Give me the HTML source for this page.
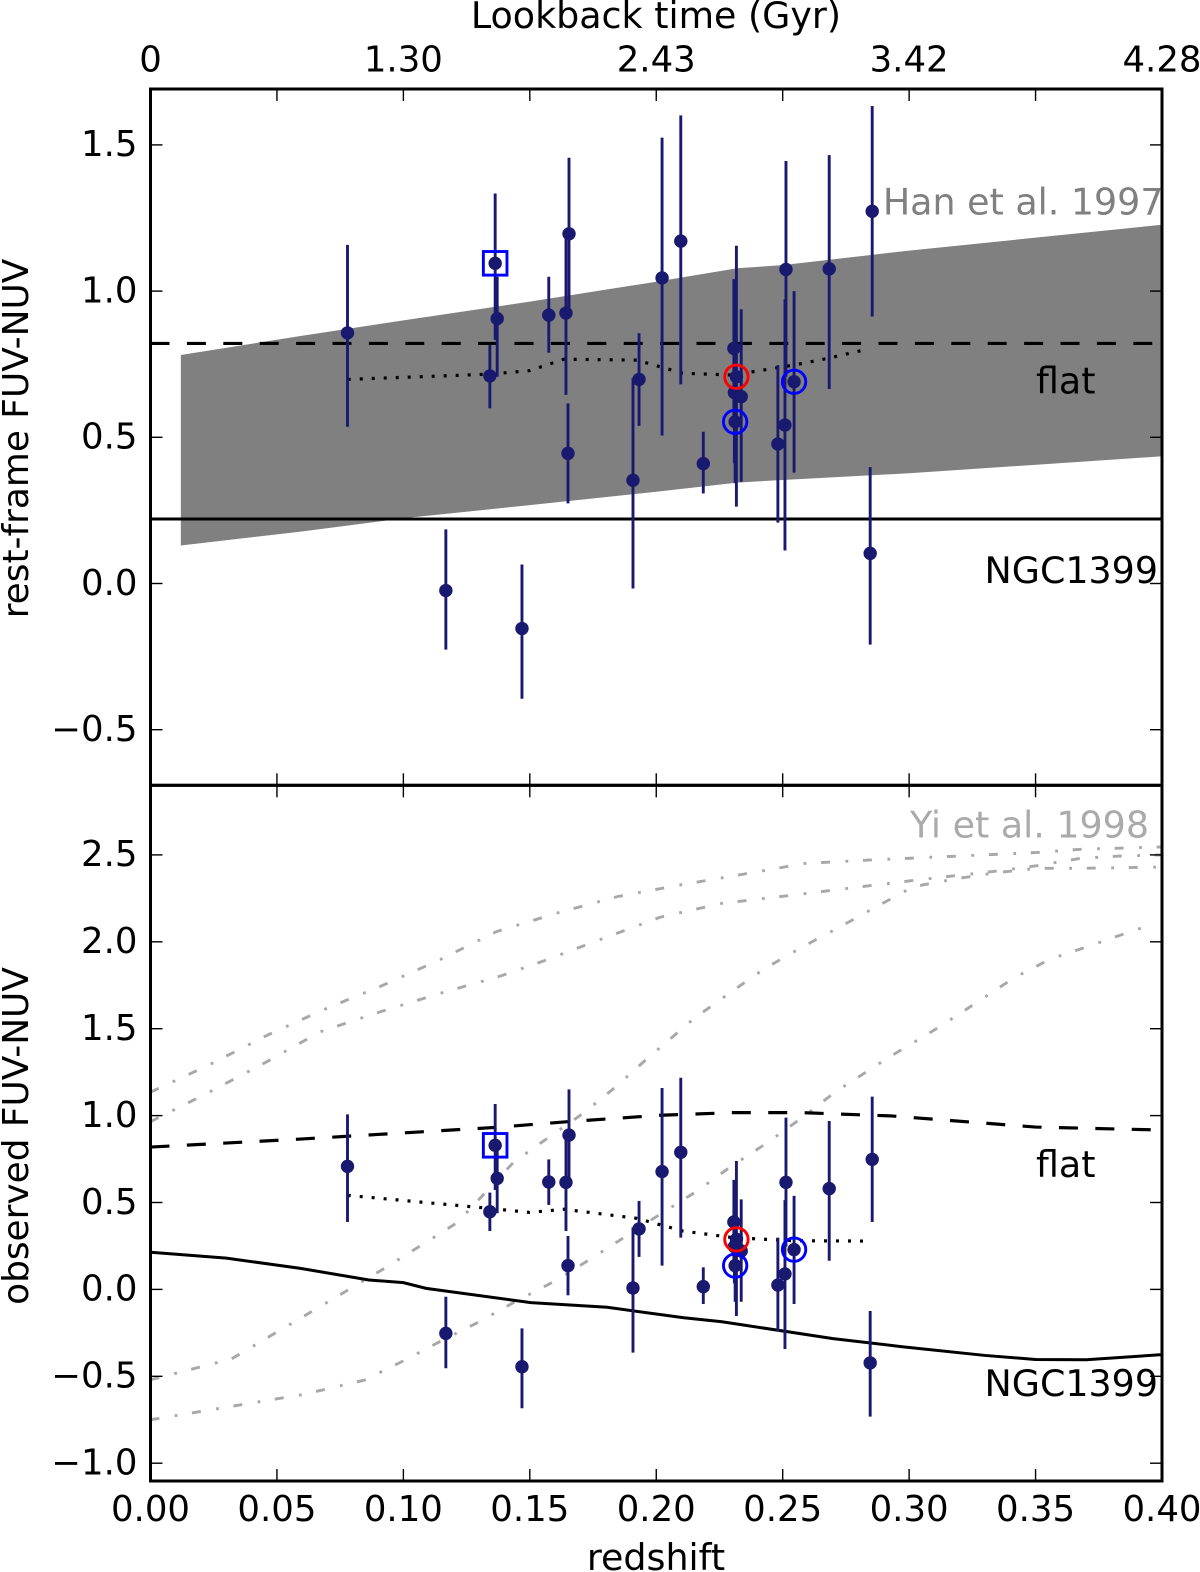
<!DOCTYPE html>
<html lang="en">
<head>
<meta charset="utf-8">
<title>FUV-NUV colour versus redshift</title>
<style>
html,body{margin:0;padding:0;background:#fff}
svg{display:block;font-family:"DejaVu Sans","Liberation Sans",sans-serif}
text{font-size:35.5px;fill:#000}
text.big{font-size:36.4px}
text.ytitle{font-size:35.9px}
</style>
</head>
<body>
<svg id="chart" xmlns="http://www.w3.org/2000/svg" width="1200" height="1572" viewBox="0 0 1200 1572">
  <defs>
    <clipPath id="clip-top"><rect x="150.5" y="89" width="1011.5" height="696.3"/></clipPath>
    <clipPath id="clip-bottom"><rect x="150.5" y="785.3" width="1011.5" height="695.7"/></clipPath>
  </defs>
  <rect x="0" y="0" width="1200" height="1572" fill="#fff"/>
  <g id="top-marks" clip-path="url(#clip-top)"></g>
  <g id="bottom-marks" clip-path="url(#clip-bottom)"></g>
  <g id="ticks"></g>
  <g fill="none" stroke="#000" stroke-width="3">
    <rect x="150.5" y="89" width="1011.5" height="696.3"/>
    <rect x="150.5" y="785.3" width="1011.5" height="695.7"/>
  </g>
  <text class="big" x="656" y="28" text-anchor="middle">Lookback time (Gyr)</text>
  <text class="ytitle" transform="translate(28,438.5) rotate(-90)" text-anchor="middle">rest-frame FUV-NUV</text>
  <text class="ytitle" transform="translate(28,1136) rotate(-90)" text-anchor="middle">observed FUV-NUV</text>
  <text class="big" x="656" y="1570" text-anchor="middle">redshift</text>
  <text class="big" x="1163.5" y="214.5" text-anchor="end" style="fill:#808080">Han et al. 1997</text>
  <text class="big" x="1149" y="837.5" text-anchor="end" style="fill:#aaaaaa">Yi et al. 1998</text>
  <text class="big" x="1036" y="393.3">flat</text>
  <text class="big" x="1158" y="583" text-anchor="end">NGC1399</text>
  <text class="big" x="1036" y="1177">flat</text>
  <text class="big" x="1158" y="1396" text-anchor="end">NGC1399</text>
</svg>
<script>
// Galaxy sample
const redshift = [0.0779,0.1363,0.1371,0.1342,0.1575,0.1655,0.1643,0.1651,0.1908,0.1932,0.2023,0.2097,0.2186,0.2307,0.2317,0.2309,0.2336,0.2312,0.2481,0.2509,0.2513,0.2545,0.2684,0.2854,0.2846,0.1168,0.1469];
const restColor = [0.857,1.095,0.906,0.710,0.918,1.196,0.925,0.445,0.353,0.698,1.045,1.171,0.410,0.804,0.707,0.653,0.639,0.553,0.477,0.542,1.074,0.690,1.076,1.273,0.103,-0.024,-0.154];
const restHigh = [1.158,1.334,1.049,0.816,1.049,1.456,1.186,0.616,0.702,0.856,1.525,1.601,0.519,1.041,1.155,0.890,0.938,0.787,0.747,0.972,1.445,1.000,1.465,1.633,0.398,0.185,0.065];
const restLow = [0.536,0.833,0.707,0.599,0.789,0.935,0.645,0.274,-0.017,0.539,0.506,0.681,0.308,0.548,0.263,0.411,0.348,0.343,0.208,0.113,0.707,0.379,0.665,0.913,-0.209,-0.226,-0.394];
const obsColor = [0.708,0.829,0.639,0.447,0.618,0.888,0.616,0.137,0.008,0.348,0.678,0.789,0.016,0.388,0.288,0.246,0.221,0.137,0.025,0.089,0.616,0.229,0.580,0.748,-0.423,-0.253,-0.445];
const obsHigh = [1.007,1.067,0.821,0.557,0.748,1.151,0.917,0.307,0.357,0.509,1.159,1.218,0.127,0.630,0.739,0.457,0.518,0.380,0.298,0.514,0.988,0.538,0.969,1.109,-0.124,-0.042,-0.224];
const obsLow = [0.388,0.572,0.438,0.336,0.486,0.630,0.336,-0.034,-0.364,0.187,0.137,0.298,-0.084,0.150,-0.153,0.035,-0.071,-0.071,-0.243,-0.343,0.246,-0.084,0.165,0.388,-0.732,-0.454,-0.684];

// Highlighted galaxies (indices into the sample arrays)
const squareBlue = [1];
const circleBlue = [17,21];
const circleRed = [14];

// Han et al. 1997 band
const bandZ = [0.012,0.059,0.100,0.150,0.200,0.232,0.250,0.300,0.400];
const bandUpper = [0.7815,0.846,0.900,0.964,1.032,1.078,1.089,1.1385,1.227];
const bandLower = [0.130,0.177,0.223,0.268,0.314,0.345,0.354,0.377,0.435];

// Reference lines, top panel
const topFlatZ = [0,0.4];
const topFlat = [0.821,0.821];
const topNgcZ = [0,0.4];
const topNgc = [0.2206,0.2206];

// Dotted sample trend
const dottedZ = [0.0780,0.1342,0.1499,0.1635,0.1923,0.2105,0.2302,0.2544,0.2679,0.2823];
const dottedTop = [0.698,0.716,0.728,0.767,0.764,0.719,0.713,0.747,0.770,0.799];
const dottedBottom = [0.541,0.466,0.443,0.461,0.409,0.336,0.298,0.280,0.279,0.278];

// Reference lines, bottom panel
const flatZ = [0,0.0593,0.1363,0.1650,0.2017,0.2302,0.2575,0.2930,0.3500,0.4000];
const flatObs = [0.819,0.865,0.932,0.965,1.002,1.017,1.017,0.998,0.934,0.917];
const ngcZ = [0,0.0300,0.0593,0.0864,0.1000,0.1090,0.1504,0.1806,0.2109,0.2260,0.2699,0.2968,0.3300,0.3500,0.3700,0.4000];
const ngcObs = [0.214,0.180,0.121,0.054,0.039,0.006,-0.076,-0.103,-0.163,-0.186,-0.283,-0.329,-0.380,-0.403,-0.405,-0.375];

// Yi et al. 1998 tracks
const yi1Z = [0,0.0231,0.0455,0.0682,0.0913,0.1142,0.1367,0.1604,0.1846,0.2094,0.2340,0.2588,0.2839,0.3174,0.3506,0.3676,0.3925,0.4000];
const yi1 = [1.135,1.291,1.458,1.608,1.746,1.895,2.058,2.164,2.260,2.327,2.388,2.451,2.470,2.492,2.514,2.532,2.543,2.546];
const yi2Z = [0,0.0231,0.0455,0.0672,0.0910,0.1147,0.1384,0.1555,0.1780,0.2015,0.2258,0.2509,0.2760,0.3012,0.3174,0.3347,0.3506,0.3676,0.3842,0.4000];
const yi2 = [0.965,1.134,1.306,1.483,1.598,1.704,1.803,1.890,2.014,2.141,2.221,2.263,2.308,2.352,2.379,2.407,2.438,2.480,2.494,2.500];
const yi3Z = [0,0.032,0.0637,0.0925,0.1213,0.1438,0.1575,0.1711,0.184,0.1965,0.2153,0.2292,0.2430,0.2575,0.2723,0.2871,0.3016,0.3174,0.3347,0.3506,0.3676,0.4000];
const yi3 = [-0.520,-0.400,-0.128,0.121,0.384,0.735,0.875,1.013,1.166,1.329,1.563,1.707,1.847,1.968,2.083,2.202,2.317,2.360,2.398,2.423,2.423,2.430];
const yi4Z = [0,0.0606,0.0848,0.0999,0.1151,0.1295,0.1438,0.159,0.1734,0.1877,0.2021,0.2157,0.2294,0.243,0.2573,0.271,0.2846,0.2913,0.2986,0.3122,0.3412,0.3557,0.3715,0.3874,0.3953];
const yi4 = [-0.750,-0.604,-0.521,-0.412,-0.295,-0.190,-0.074,0.041,0.169,0.303,0.438,0.562,0.706,0.835,0.984,1.138,1.266,1.329,1.393,1.512,1.790,1.900,1.977,2.058,2.096];

// Tick labels
const zTicks = [0,0.05,0.10,0.15,0.20,0.25,0.30,0.35,0.40];
const zLabeled = [0,0.05,0.10,0.15,0.20,0.25,0.30,0.35,0.40];
const zLabels = ["0.00","0.05","0.10","0.15","0.20","0.25","0.30","0.35","0.40"];
const lookbackZ = [0,0.1,0.2,0.3,0.4];
const lookbackLabels = ["0","1.30","2.43","3.42","4.28"];
const topYTicks = [1.5,1.0,0.5,0.0,-0.5];
const topYLabels = ["1.5","1.0","0.5","0.0","\u22120.5"];
const bottomYTicks = [2.5,2.0,1.5,1.0,0.5,0.0,-0.5,-1.0];
const bottomYLabels = ["2.5","2.0","1.5","1.0","0.5","0.0","\u22120.5","\u22121.0"];

const NS = "http://www.w3.org/2000/svg";
const xScale = z => 150.5 + z * 2528.75;
const yTop = v => 583.5 - 292.4 * v;
const yBottom = v => 1289.4 - 173.8 * v;

function make(tag, parent, attrs) {
  const el = document.createElementNS(NS, tag);
  for (const k in attrs) el.setAttribute(k, attrs[k]);
  parent.appendChild(el);
  return el;
}
function linePath(zs, vs, y) {
  return zs.map((z, i) => (i ? "L" : "M") + xScale(z).toFixed(2) + " " + y(vs[i]).toFixed(2)).join("");
}

const topG = document.getElementById("top-marks");
const bottomG = document.getElementById("bottom-marks");
const tickG = document.getElementById("ticks");
const svg = document.getElementById("chart");

// Han band
let bandPts = bandZ.map((z, i) => xScale(z).toFixed(2) + "," + yTop(bandUpper[i]).toFixed(2));
for (let i = bandZ.length - 1; i >= 0; i--) bandPts.push(xScale(bandZ[i]).toFixed(2) + "," + yTop(bandLower[i]).toFixed(2));
let el = make("polygon", topG, {points: bandPts.join(" "), fill: "#808080"});



// Top reference lines
el = make("path", topG, {d: linePath(topFlatZ, topFlat, yTop), fill: "none", stroke: "#000", "stroke-width": 3.2, "stroke-dasharray": "19 17.4"});


el = make("path", topG, {d: linePath(topNgcZ, topNgc, yTop), fill: "none", stroke: "#000", "stroke-width": 3});


el = make("path", topG, {d: linePath(dottedZ, dottedTop, yTop), fill: "none", stroke: "#000", "stroke-width": 3.2, "stroke-dasharray": "3 9"});



// Yi tracks
[[yi1Z, yi1], [yi2Z, yi2], [yi3Z, yi3], [yi4Z, yi4]].forEach(pair => {
  const track = make("path", bottomG, {d: linePath(pair[0], pair[1], yBottom), fill: "none", stroke: "#a8a8a8", "stroke-width": 2.9, "stroke-dasharray": "9 15.5 2.8 14.7"});
  
  
});

// Bottom reference lines
el = make("path", bottomG, {d: linePath(flatZ, flatObs, yBottom), fill: "none", stroke: "#000", "stroke-width": 3.2, "stroke-dasharray": "19 17.4"});


el = make("path", bottomG, {d: linePath(ngcZ, ngcObs, yBottom), fill: "none", stroke: "#000", "stroke-width": 3});


el = make("path", bottomG, {d: linePath(dottedZ, dottedBottom, yBottom), fill: "none", stroke: "#000", "stroke-width": 3.2, "stroke-dasharray": "3 9"});



// Error bars and points
function drawSample(group, y, vals, hi, lo) {
  redshift.forEach((z, i) => {
    const bar = make("line", group, {x1: xScale(z), x2: xScale(z), y1: y(hi[i]), y2: y(lo[i]), stroke: "#191970", "stroke-width": 2.9});
    
    
  });
  redshift.forEach((z, i) => {
    const pt = make("circle", group, {cx: xScale(z), cy: y(vals[i]), r: 6.7, fill: "#191970"});
    
    
  });
  squareBlue.forEach(i => {
    const sq = make("rect", group, {x: xScale(redshift[i]) - 11.8, y: y(vals[i]) - 11.8, width: 23.6, height: 23.6, fill: "none", stroke: "#0000ff", "stroke-width": 2.9});
    
    
  });
  circleBlue.forEach(i => {
    const c = make("circle", group, {cx: xScale(redshift[i]), cy: y(vals[i]), r: 11.7, fill: "none", stroke: "#0000ff", "stroke-width": 2.9});
    
    
  });
  circleRed.forEach(i => {
    const c = make("circle", group, {cx: xScale(redshift[i]), cy: y(vals[i]), r: 11.7, fill: "none", stroke: "#ff0000", "stroke-width": 2.9});
    
    
  });
}
drawSample(topG, yTop, restColor, restHigh, restLow);
drawSample(bottomG, yBottom, obsColor, obsHigh, obsLow);

// Ticks
const TICK = 12;
function tick(x1, y1, x2, y2) {
  const t = make("line", tickG, {x1: x1, y1: y1, x2: x2, y2: y2, stroke: "#000", "stroke-width": 1.4});
  
  
}
zTicks.slice(1, -1).forEach(z => {
  const x = xScale(z);
  tick(x, 89, x, 89 + TICK);
  tick(x, 785.3 - TICK, x, 785.3 + TICK);
  tick(x, 1481 - TICK, x, 1481);
});
topYTicks.forEach(v => {
  tick(150.5, yTop(v), 150.5 + TICK, yTop(v));
  tick(1162 - TICK, yTop(v), 1162, yTop(v));
});
bottomYTicks.forEach(v => {
  tick(150.5, yBottom(v), 150.5 + TICK, yBottom(v));
  tick(1162 - TICK, yBottom(v), 1162, yBottom(v));
});

// Tick labels
zLabeled.forEach((z, i) => {
  const t = make("text", svg, {x: xScale(z), y: 1521, "text-anchor": "middle"});
  t.textContent = zLabels[i];
  
  
});
lookbackZ.forEach((z, i) => {
  const t = make("text", svg, {x: xScale(z), y: 71.5, "text-anchor": "middle"});
  t.textContent = lookbackLabels[i];
  
  
});
topYTicks.forEach((v, i) => {
  const t = make("text", svg, {x: 137.5, y: yTop(v) + 11.3, "text-anchor": "end"});
  t.textContent = topYLabels[i];
  
  
});
bottomYTicks.forEach((v, i) => {
  const t = make("text", svg, {x: 137.5, y: yBottom(v) + 11.3, "text-anchor": "end"});
  t.textContent = bottomYLabels[i];
  
  
});
</script>
</body>
</html>
